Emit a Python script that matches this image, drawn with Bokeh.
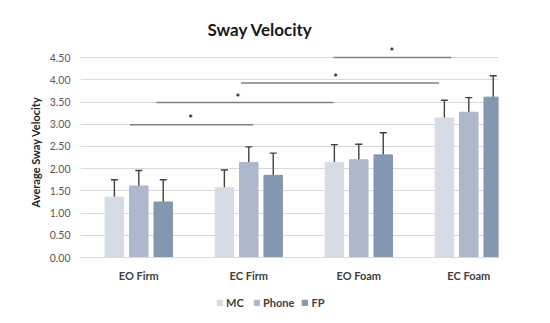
from bokeh.plotting import figure
from bokeh.layouts import column
from bokeh.models import (ColumnDataSource, Whisker, TeeHead, FixedTicker,
                          Legend, LegendItem, Range1d, NumeralTickFormatter)
from bokeh.core.properties import value
from bokeh.transform import dodge
from bokeh.embed import file_html
from bokeh.resources import INLINE

categories = ["EO Firm", "EC Firm", "EO Foam", "EC Foam"]
series = ["MC", "Phone", "FP"]
mc = [1.36, 1.57, 2.14, 3.14]
mc_err = [0.39, 0.40, 0.40, 0.40]
phone = [1.61, 2.14, 2.20, 3.27]
phone_err = [0.35, 0.35, 0.35, 0.33]
fp = [1.25, 1.85, 2.31, 3.61]
fp_err = [0.50, 0.50, 0.50, 0.48]
y_ticks = [0.0, 0.5, 1.0, 1.5, 2.0, 2.5, 3.0, 3.5, 4.0, 4.5]

# significance brackets (in category-index units)
sig_x0 = [-0.08, 0.16, 0.93, 1.77]
sig_x1 = [1.04, 1.77, 2.73, 2.84]
sig_y = [2.99, 3.49, 3.93, 4.50]
sig_star_x = [0.47, 0.90, 1.79, 2.30]
sig_star_y = [3.12, 3.60, 4.05, 4.64]

FONT = "Lato"
idx = list(range(len(categories)))
colors = ["#D6DCE5", "#ADB9CA", "#8497B0"]

src = ColumnDataSource(dict(
    x=idx, mc=mc, phone=phone, fp=fp,
    mc_lo=[v - e for v, e in zip(mc, mc_err)], mc_hi=[v + e for v, e in zip(mc, mc_err)],
    ph_lo=[v - e for v, e in zip(phone, phone_err)], ph_hi=[v + e for v, e in zip(phone, phone_err)],
    fp_lo=[v - e for v, e in zip(fp, fp_err)], fp_hi=[v + e for v, e in zip(fp, fp_err)],
))

p = figure(width=550, height=290, output_backend="svg", toolbar_location=None,
           x_range=Range1d(-0.53, 3.27), y_range=Range1d(0, 4.75),
           min_border_left=80, min_border_right=52, min_border_top=46, min_border_bottom=33,
           title="Sway Velocity")
p.outline_line_color = None
p.background_fill_color = "white"
p.border_fill_color = "white"

p.title.align = "left"
p.title.offset = 127
p.title.standoff = 14
p.title.text_font = FONT
p.title.text_font_size = "17px"
p.title.text_font_style = "bold"
p.title.text_color = "#1a1a1a"

offs = [-0.222, 0.0, 0.222]
bw = 0.168
for off, key, c in zip(offs, ["mc", "phone", "fp"], colors):
    p.vbar(x=dodge("x", off), top=key, width=bw, source=src, color=c)

for off, lo, hi in zip(offs, ["mc_lo", "ph_lo", "fp_lo"], ["mc_hi", "ph_hi", "fp_hi"]):
    w = Whisker(base=dodge("x", off), lower=lo, upper=hi, source=src,
                line_color="#404040", line_width=1.4,
                upper_head=TeeHead(size=7, line_color="#404040", line_width=1.4),
                lower_head=TeeHead(size=7, line_color="#404040", line_width=1.4))
    p.add_layout(w)

# significance lines and stars
p.segment(x0=sig_x0, x1=sig_x1, y0=sig_y, y1=sig_y, line_color="#808080", line_width=1.5)
p.text(x=sig_star_x, y=sig_star_y, text=["*"] * len(sig_star_x), text_align="center",
       text_baseline="middle", text_font=value(FONT), text_font_size="11px",
       text_font_style="bold", text_color="#262626")

# axes
p.yaxis.ticker = FixedTicker(ticks=y_ticks)
p.yaxis.formatter = NumeralTickFormatter(format="0.00")
p.yaxis.axis_line_color = None
p.yaxis.major_tick_line_color = None
p.yaxis.minor_tick_line_color = None
p.yaxis.major_label_text_font = FONT
p.yaxis.major_label_text_font_size = "10.5px"
p.yaxis.major_label_text_color = "#595959"
p.yaxis.major_label_standoff = 4
p.yaxis.axis_label = "Average Sway Velocity"
p.yaxis.axis_label_text_font = FONT
p.yaxis.axis_label_text_font_size = "11px"
p.yaxis.axis_label_text_font_style = "bold"
p.yaxis.axis_label_text_color = "#262626"
p.yaxis.axis_label_standoff = 5

p.xaxis.ticker = FixedTicker(ticks=idx)
p.xaxis.major_label_overrides = {i: c for i, c in zip(idx, categories)}
p.xaxis.axis_line_color = "#D9D9D9"
p.xaxis.major_tick_line_color = None
p.xaxis.minor_tick_line_color = None
p.xaxis.major_label_text_font = FONT
p.xaxis.major_label_text_font_size = "11px"
p.xaxis.major_label_text_font_style = "bold"
p.xaxis.major_label_text_color = "#404040"
p.xaxis.major_label_standoff = 5

p.xgrid.grid_line_color = None
p.ygrid.ticker = FixedTicker(ticks=y_ticks)
p.ygrid.grid_line_color = "#D9D9D9"

# legend strip below the chart
pl = figure(width=550, height=33, output_backend="svg", toolbar_location=None,
            x_range=Range1d(0, 1), y_range=Range1d(0, 1),
            min_border_left=0, min_border_right=0, min_border_top=0, min_border_bottom=0,
            x_axis_type=None, y_axis_type=None)
pl.outline_line_color = None
pl.grid.visible = False
items = []
for name, c in zip(series, colors):
    r = pl.vbar(x=[0.5], top=[0.0], bottom=[0.0], width=0.0, color=c)
    items.append(LegendItem(label=name, renderers=[r]))
legend = Legend(items=items, orientation="horizontal", location=(136, 14),
                glyph_width=7, glyph_height=7, label_height=12, label_standoff=3,
                spacing=7, padding=0, margin=0, border_line_color=None,
                background_fill_alpha=0, label_text_font=FONT,
                label_text_font_size="11px", label_text_font_style="bold",
                label_text_color="#404040")
pl.add_layout(legend)

layout = column(p, pl, spacing=0)
open("out.html", "w").write(file_html(layout, INLINE))
